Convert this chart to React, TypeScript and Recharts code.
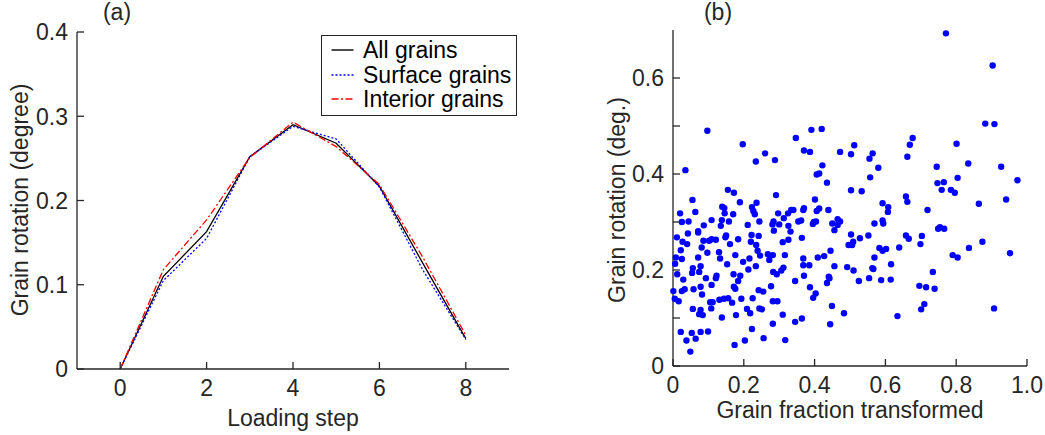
import React from "react";
import {
  LineChart, Line, XAxis, YAxis, Legend,
  ScatterChart, Scatter,
} from "recharts";

// ---------- Panel (a) data ----------
const loadingSteps = [0, 1, 2, 3, 4, 5, 6, 7, 8];
const allGrains = [0, 0.110, 0.163, 0.252, 0.290, 0.268, 0.217, 0.126, 0.036];
const surfaceGrains = [0, 0.105, 0.155, 0.252, 0.288, 0.273, 0.216, 0.118, 0.035];
const interiorGrains = [0, 0.118, 0.177, 0.251, 0.293, 0.264, 0.219, 0.133, 0.040];
const xTicksA = [0, 2, 4, 6, 8];
const yTicksA = [0, 0.1, 0.2, 0.3, 0.4];

// ---------- Panel (b) data: [grain fraction transformed, grain rotation (deg.)] ----------
const scatterPoints: [number, number][] = [
  [0.035,0.408],[0.260,0.443],[0.234,0.426],[0.288,0.429],[0.291,0.356],[0.155,0.367],[0.172,0.361],
  [0.055,0.346],[0.189,0.341],[0.236,0.340],[0.139,0.332],[0.145,0.329],[0.223,0.331],[0.063,0.321],
  [0.020,0.318],[0.146,0.318],[0.170,0.316],[0.227,0.323],[0.231,0.316],[0.297,0.318],[0.325,0.318],
  [0.025,0.300],[0.044,0.301],[0.109,0.304],[0.138,0.304],[0.158,0.301],[0.244,0.301],[0.135,0.292],
  [0.087,0.293],[0.211,0.294],[0.284,0.301],[0.281,0.295],[0.300,0.295],[0.313,0.308],[0.326,0.292],
  [0.071,0.281],[0.071,0.278],[0.042,0.276],[0.222,0.273],[0.285,0.282],[0.011,0.268],[0.027,0.259],
  [0.040,0.254],[0.086,0.261],[0.102,0.261],[0.109,0.264],[0.121,0.263],[0.148,0.268],[0.150,0.272],
  [0.184,0.264],[0.220,0.259],[0.242,0.271],[0.161,0.254],[0.081,0.247],[0.235,0.252],[0.310,0.258],
  [0.326,0.263],[0.022,0.241],[0.097,0.236],[0.130,0.237],[0.176,0.231],[0.239,0.240],[0.246,0.230],
  [0.268,0.233],[0.282,0.231],[0.316,0.231],[0.008,0.226],[0.025,0.223],[0.071,0.226],[0.133,0.224],
  [0.216,0.224],
  [0.198,0.217],[0.272,0.221],[0.006,0.213],[0.078,0.208],[0.056,0.204],[0.153,0.212],[0.213,0.201],
  [0.234,0.208],[0.074,0.196],[0.054,0.194],[0.012,0.191],[0.029,0.180],[0.093,0.183],[0.123,0.188],
  [0.121,0.183],[0.171,0.191],[0.190,0.188],[0.184,0.177],[0.109,0.169],[0.283,0.196],[0.293,0.191],
  [0.306,0.199],[0.312,0.205],[0.001,0.156],[0.025,0.156],[0.033,0.160],[0.058,0.160],[0.078,0.165],
  [0.082,0.149],[0.172,0.165],[0.176,0.161],[0.242,0.158],[0.255,0.155],[0.277,0.166],[0.005,0.140],
  [0.016,0.135],[0.105,0.133],[0.112,0.133],[0.131,0.138],[0.144,0.140],[0.156,0.141],[0.167,0.132],
  [0.193,0.140],[0.225,0.141],[0.282,0.135],[0.295,0.135],[0.056,0.119],[0.078,0.117],[0.074,0.108],
  [0.084,0.106],[0.108,0.120],[0.209,0.119],[0.218,0.110],[0.244,0.120],[0.251,0.118],[0.178,0.106],
  [0.310,0.107],[0.138,0.101],[0.282,0.088],[0.223,0.077],[0.022,0.071],[0.053,0.069],[0.078,0.071],
  [0.099,0.072],[0.064,0.057],[0.038,0.053],[0.256,0.058],[0.203,0.053],[0.317,0.054],[0.174,0.044],
  [0.049,0.030],
  [0.370,0.449],[0.387,0.446],[0.472,0.446],[0.503,0.441],[0.564,0.443],[0.555,0.432],[0.662,0.436],
  [0.422,0.418],[0.580,0.413],[0.406,0.399],[0.413,0.401],[0.557,0.393],[0.435,0.382],[0.503,0.366],
  [0.533,0.364],[0.658,0.353],[0.662,0.342],[0.401,0.347],[0.592,0.339],[0.608,0.331],[0.607,0.321],
  [0.334,0.325],[0.340,0.325],[0.368,0.325],[0.370,0.329],[0.406,0.323],[0.413,0.328],[0.439,0.325],
  [0.354,0.301],[0.362,0.303],[0.395,0.296],[0.398,0.300],[0.404,0.301],[0.450,0.297],[0.465,0.306],
  [0.472,0.301],[0.465,0.294],[0.456,0.283],[0.569,0.297],[0.592,0.303],[0.594,0.297],[0.332,0.280],
  [0.364,0.267],[0.503,0.274],[0.496,0.252],[0.506,0.252],[0.509,0.259],[0.528,0.266],[0.552,0.272],
  [0.658,0.272],[0.666,0.265],[0.445,0.240],[0.583,0.246],[0.592,0.240],[0.602,0.244],[0.639,0.247],
  [0.368,0.224],[0.409,0.226],[0.427,0.229],[0.569,0.226],
  [0.368,0.210],[0.385,0.210],[0.456,0.208],[0.492,0.206],[0.510,0.199],[0.563,0.204],[0.566,0.202],
  [0.616,0.212],[0.345,0.177],[0.370,0.188],[0.440,0.186],[0.442,0.183],[0.435,0.173],[0.525,0.177],
  [0.554,0.183],[0.588,0.179],[0.615,0.180],[0.387,0.164],[0.403,0.151],[0.396,0.142],[0.449,0.125],
  [0.483,0.110],[0.364,0.099],[0.345,0.092],[0.444,0.087],[0.634,0.104],
  [0.745,0.415],[0.834,0.422],[0.927,0.415],[0.804,0.392],[0.973,0.387],[0.747,0.381],[0.765,0.383],
  [0.759,0.367],[0.785,0.367],[0.796,0.361],[0.864,0.338],[0.941,0.347],[0.719,0.325],[0.749,0.286],
  [0.754,0.289],[0.766,0.286],[0.703,0.271],[0.699,0.254],[0.874,0.259],[0.836,0.246],[0.952,0.235],
  [0.790,0.231],[0.804,0.226],
  [0.734,0.196],[0.696,0.167],[0.715,0.164],[0.739,0.161],[0.710,0.129],[0.701,0.118],[0.907,0.120],
  [0.097,0.490],[0.197,0.462],[0.347,0.475],[0.391,0.492],[0.420,0.494],[0.771,0.693],[0.903,0.626],
  [0.882,0.505],[0.908,0.504],[0.677,0.475],[0.669,0.461],[0.801,0.463],[0.512,0.460],
];
const xTicksB = [0, 0.2, 0.4, 0.6, 0.8, 1.0];
const yTicksB = [0, 0.1, 0.2, 0.3, 0.4, 0.5, 0.6];
const yLabelsB = [0, 0.2, 0.4, 0.6];

const seriesA = [
  { key: "all", name: "All grains", color: "#000000", dash: undefined as string | undefined },
  { key: "surface", name: "Surface grains", color: "#0000ff", dash: "2 2" },
  { key: "interior", name: "Interior grains", color: "#ff0000", dash: "7 2.5 2 2.5" },
];

const lineData = loadingSteps.map((s, i) => ({
  step: s,
  all: allGrains[i],
  surface: surfaceGrains[i],
  interior: interiorGrains[i],
}));
const scatterData = scatterPoints.map(([x, y]) => ({ x, y }));

const FONT = "'Liberation Sans', Arial, Helvetica, sans-serif";
const AXIS = "#262626";
const TXT = "#262626";
const FS = 23;

const fmtA = (v: number) => (v === 0 ? "0" : v.toFixed(1));
const fmtB = (v: number) => (v === 0 ? "0" : v.toFixed(1));

const makeYTick = (labels: number[] | null, fmt: (v: number) => string) => (props: any) => {
  const { x, y, payload } = props;
  const v = payload.value as number;
  const show = labels ? labels.some((l) => Math.abs(l - v) < 1e-9) : true;
  return (
    <g>
      <line x1={x} x2={x + 7} y1={y} y2={y} stroke={AXIS} strokeWidth={1.3} />
      {show && (
        <text x={x - 9} y={y} dy="0.36em" textAnchor="end" fontSize={FS} fill={TXT} fontFamily={FONT}>
          {fmt(v)}
        </text>
      )}
    </g>
  );
};

const makeXTick = (fmt: (v: number) => string) => (props: any) => {
  const { x, y, payload } = props;
  const v = payload.value as number;
  return (
    <g>
      <line x1={x} x2={x} y1={y} y2={y - 7} stroke={AXIS} strokeWidth={1.3} />
      <text x={x} y={y + 27} textAnchor="middle" fontSize={FS} fill={TXT} fontFamily={FONT}>
        {fmt(v)}
      </text>
    </g>
  );
};

const LegendBox = () => (
  <div
    style={{
      border: "1.5px solid #222",
      background: "#fff",
      padding: "2px 4px 3px 7px",
      fontFamily: FONT,
      fontSize: FS,
      color: "#000",
      lineHeight: "24.5px",
      width: 183,
      boxSizing: "content-box",
    }}
  >
    {seriesA.map((s) => (
      <div key={s.key} style={{ display: "flex", alignItems: "center", whiteSpace: "nowrap" }}>
        <svg width={34} height={10} style={{ flexShrink: 0 }}>
          <line x1={2.5} x2={24.5} y1={5} y2={5} stroke={s.color} strokeWidth={1.4} strokeDasharray={s.dash} />
        </svg>
        <span>{s.name}</span>
      </div>
    ))}
  </div>
);

const dot = (props: any) => <circle cx={props.cx} cy={props.cy} r={3.2} fill="#0000ff" />;

export default function App() {
  return (
    <div style={{ position: "absolute", left: 0, top: 0, width: 1045, height: 435, background: "#fff" }}>
      <div style={{ position: "absolute", left: 0, top: 0 }}>
        <LineChart width={540} height={435} data={lineData} margin={{ top: 32, right: 31, left: 17, bottom: 26 }}>
          <XAxis
            dataKey="step"
            type="number"
            domain={[-1, 9]}
            ticks={xTicksA}
            interval={0}
            height={40}
            tickSize={0}
            tickMargin={0}
            tick={makeXTick((v) => String(v))}
            axisLine={{ stroke: AXIS, strokeWidth: 1.3 }}
          />
          <YAxis
            type="number"
            domain={[0, 0.4]}
            ticks={yTicksA}
            interval={0}
            width={60}
            tickSize={0}
            tickMargin={0}
            tick={makeYTick(null, fmtA)}
            axisLine={{ stroke: AXIS, strokeWidth: 1.3 }}
          />
          <Legend
            content={<LegendBox />}
            layout="horizontal"
            verticalAlign="middle"
            align="center"
            wrapperStyle={{ position: "absolute", left: 321, top: 35, width: "auto", height: "auto" }}
          />
          {seriesA.map((s) => (
            <Line
              key={s.key}
              dataKey={s.key}
              name={s.name}
              stroke={s.color}
              strokeWidth={1.3}
              strokeDasharray={s.dash}
              dot={false}
              activeDot={false}
              type="linear"
              isAnimationActive={false}
            />
          ))}
        </LineChart>
      </div>

      <div style={{ position: "absolute", left: 560, top: 0 }}>
        <ScatterChart width={485} height={435} margin={{ top: 30, right: 18, left: 53, bottom: 29 }}>
          <XAxis
            dataKey="x"
            type="number"
            domain={[0, 1]}
            ticks={xTicksB}
            interval={0}
            height={40}
            tickSize={0}
            tickMargin={0}
            tick={makeXTick(fmtB)}
            axisLine={{ stroke: AXIS, strokeWidth: 1.3 }}
          />
          <YAxis
            dataKey="y"
            type="number"
            domain={[0, 0.7]}
            ticks={yTicksB}
            interval={0}
            width={60}
            tickSize={0}
            tickMargin={0}
            tick={makeYTick(yLabelsB, fmtB)}
            axisLine={{ stroke: AXIS, strokeWidth: 1.3 }}
          />
          <Scatter data={scatterData} shape={dot} isAnimationActive={false} />
        </ScatterChart>
      </div>

      <svg width={1045} height={435} style={{ position: "absolute", left: 0, top: 0, pointerEvents: "none" }}>
        <g fontFamily={FONT} fontSize={FS} fill={TXT}>
          <text x={117} y={20} textAnchor="middle">(a)</text>
          <text x={718} y={20} textAnchor="middle">(b)</text>
          <text x={293} y={426} textAnchor="middle">Loading step</text>
          <text x={850} y={418} textAnchor="middle">Grain fraction transformed</text>
          <text x={0} y={0} textAnchor="middle" transform="translate(28,200) rotate(-90)">Grain rotation (degree)</text>
          <text x={0} y={0} textAnchor="middle" transform="translate(625,200) rotate(-90)">Grain rotation (deg.)</text>
        </g>
      </svg>
    </div>
  );
}
